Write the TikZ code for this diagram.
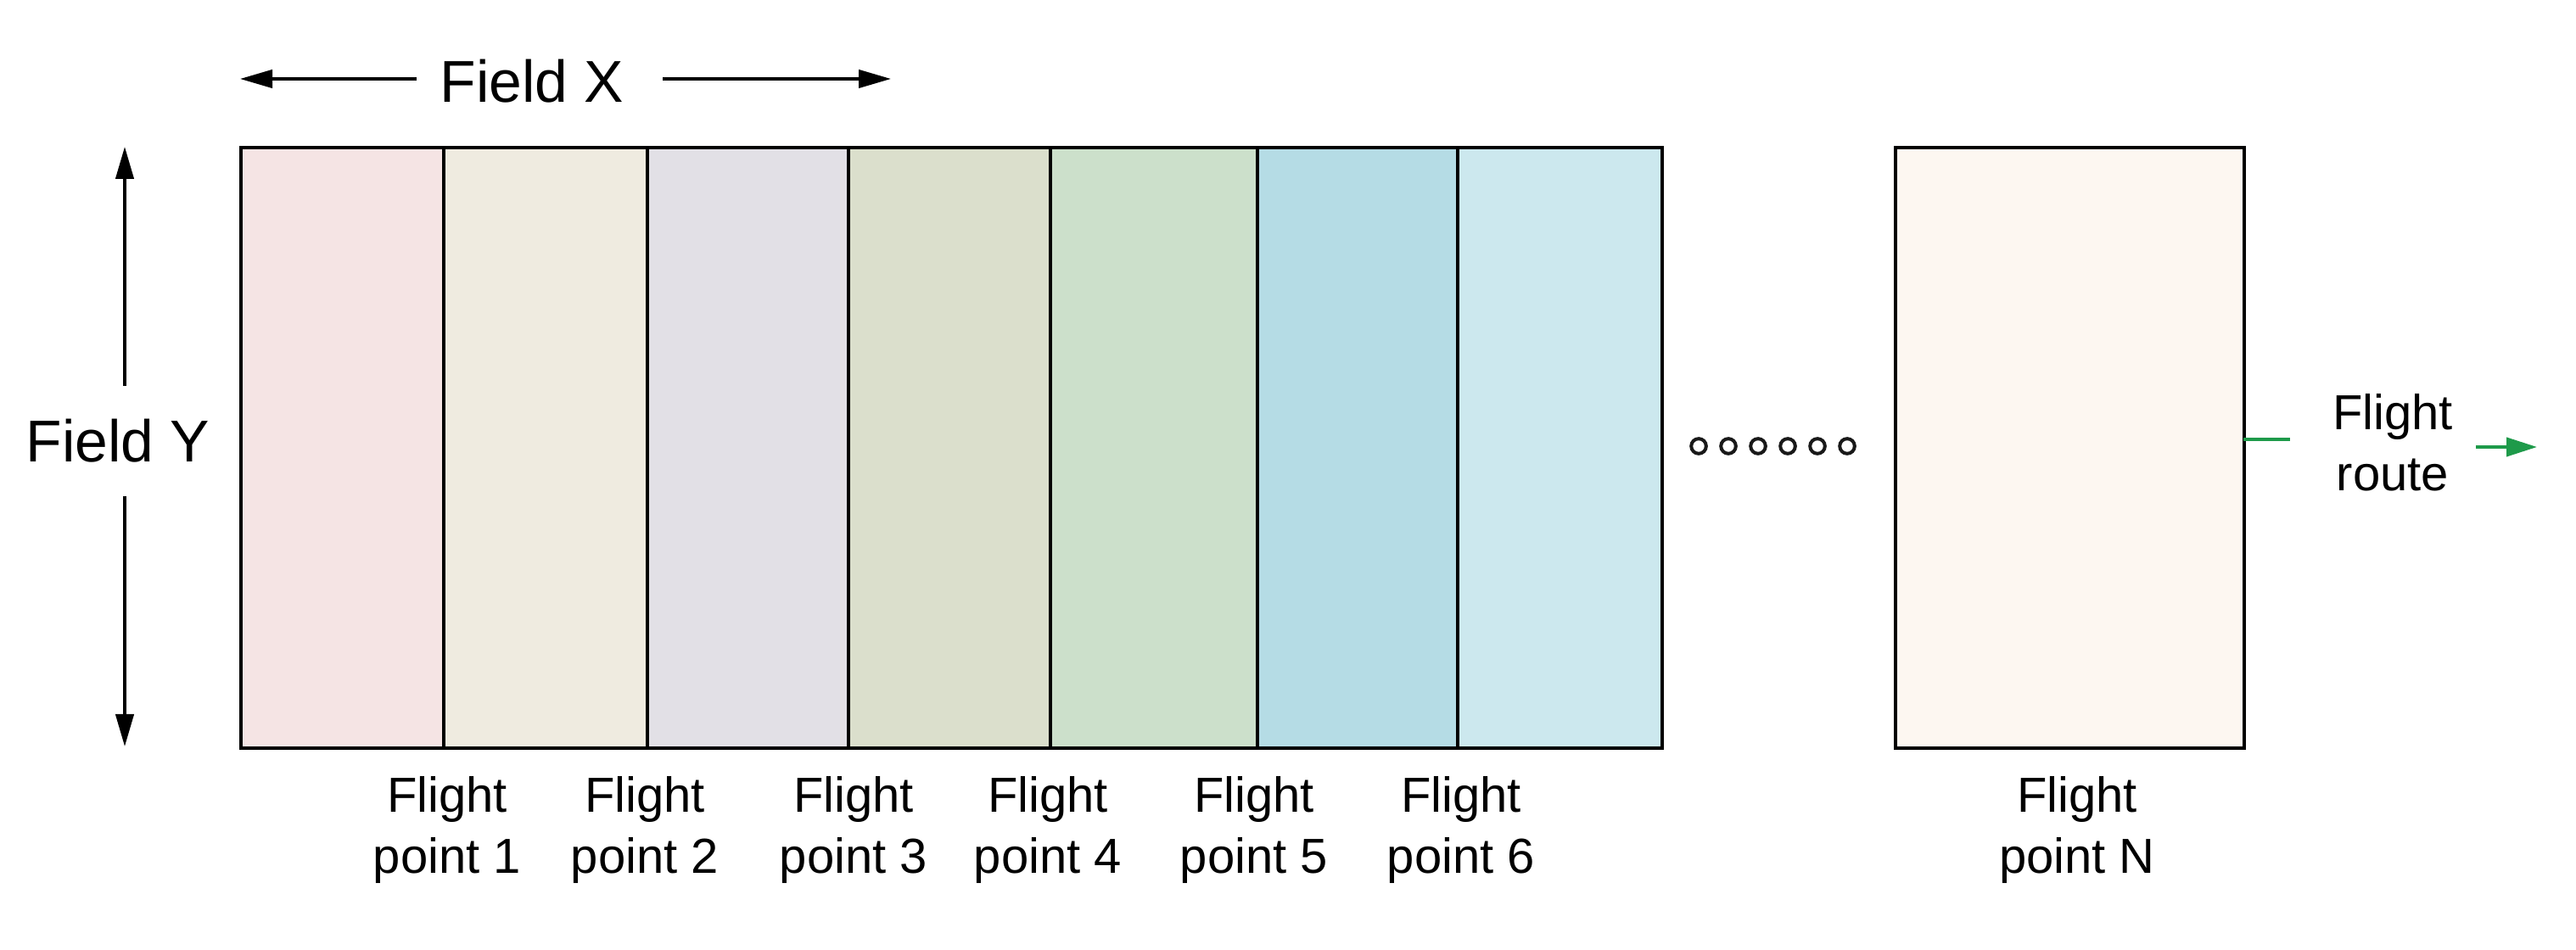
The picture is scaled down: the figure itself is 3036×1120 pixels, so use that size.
\documentclass[tikz,border=0pt]{standalone}
\usepackage{fontspec}
\setmainfont{Liberation Sans}
\usetikzlibrary{arrows.meta}
\definecolor{cA}{HTML}{F5E4E4}
\definecolor{cB}{HTML}{EFEBE0}
\definecolor{cC}{HTML}{E2E0E6}
\definecolor{cD}{HTML}{DBDFCC}
\definecolor{cE}{HTML}{CCE0CB}
\definecolor{cF}{HTML}{B5DCE5}
\definecolor{cG}{HTML}{CCE8EE}
\definecolor{cN}{HTML}{FDF7F1}
\definecolor{routegreen}{HTML}{1E9A4A}
\begin{document}
\begin{tikzpicture}[x=0.25pt,y=-0.25pt,
  colbox/.style={draw=black, line width=0.9pt, inner sep=0pt, anchor=north west},
  lbl/.style={font=\fontsize{14.5}{17.8}\selectfont, align=center, inner sep=0pt, anchor=north},
  big/.style={font=\fontsize{17.4}{20}\selectfont, inner sep=0pt, anchor=base},
  arr/.style={line width=0.9pt, -{Triangle[length=9.5pt,width=5.3pt]}},
  garr/.style={draw=routegreen, line width=1pt},
  dot/.style={circle, draw=black!90, line width=1pt, minimum size=4.4pt, inner sep=0pt}]
\useasboundingbox (0,0) rectangle (3036,1120);
\fill[white] (0,0) rectangle (3036,1120);
% columns
\node[colbox, fill=cA, minimum width=59.75pt, minimum height=177pt] (p1) at (282,172) {};
\node[colbox, fill=cB, minimum width=60pt, minimum height=177pt] (p2) at (521,172) {};
\node[colbox, fill=cC, minimum width=59.25pt, minimum height=177pt] (p3) at (761,172) {};
\node[colbox, fill=cD, minimum width=59.5pt, minimum height=177pt] (p4) at (998,172) {};
\node[colbox, fill=cE, minimum width=61pt, minimum height=177pt] (p5) at (1236,172) {};
\node[colbox, fill=cF, minimum width=59pt, minimum height=177pt] (p6) at (1480,172) {};
\node[colbox, fill=cG, minimum width=60.25pt, minimum height=177pt] (p7) at (1716,172) {};
\node[colbox, fill=cN, minimum width=102.75pt, minimum height=177pt] (pN) at (2232,172) {};
% labels
\node[lbl] (l1) at (527,915) {Flight\\point 1};
\node[lbl] (l2) at (760,915) {Flight\\point 2};
\node[lbl] (l3) at (1006,915) {Flight\\point 3};
\node[lbl] (l4) at (1235,915) {Flight\\point 4};
\node[lbl] (l5) at (1478,915) {Flight\\point 5};
\node[lbl] (l6) at (1722,915) {Flight\\point 6};
\node[lbl] (lN) at (2448,915) {Flight\\point N};
% Field X
\node[big] (fx) at (627,121) {Field X};
\coordinate (fxl0) at (491,93);
\coordinate (fxl1) at (283,93);
\coordinate (fxr0) at (781,93);
\coordinate (fxr1) at (1050,93);
\draw[arr] (fxl0) -- (fxl1);
\draw[arr] (fxr0) -- (fxr1);
% Field Y
\node[big] (fy) at (139,545) {Field Y};
\coordinate (fyt0) at (147,455);
\coordinate (fyt1) at (147,173);
\coordinate (fyb0) at (147,585);
\coordinate (fyb1) at (147,880);
\draw[arr] (fyt0) -- (fyt1);
\draw[arr] (fyb0) -- (fyb1);
% dots
\foreach \i/\xx in {1/2002,2/2037,3/2072,4/2107,5/2142,6/2177}
  \node[dot] (d\i) at (\xx,526) {};
% flight route
\node[lbl] (route) at (2820,464) {Flight\\route};
\coordinate (g0) at (2644,518);
\coordinate (g1) at (2699,518);
\draw[garr] (g0) -- (g1);
\coordinate (g2) at (2918,527);
\coordinate (g3) at (2990,527);
\draw[garr, -{Triangle[length=9pt,width=5.5pt]}] (g2) -- (g3);
\end{tikzpicture}
\end{document}
